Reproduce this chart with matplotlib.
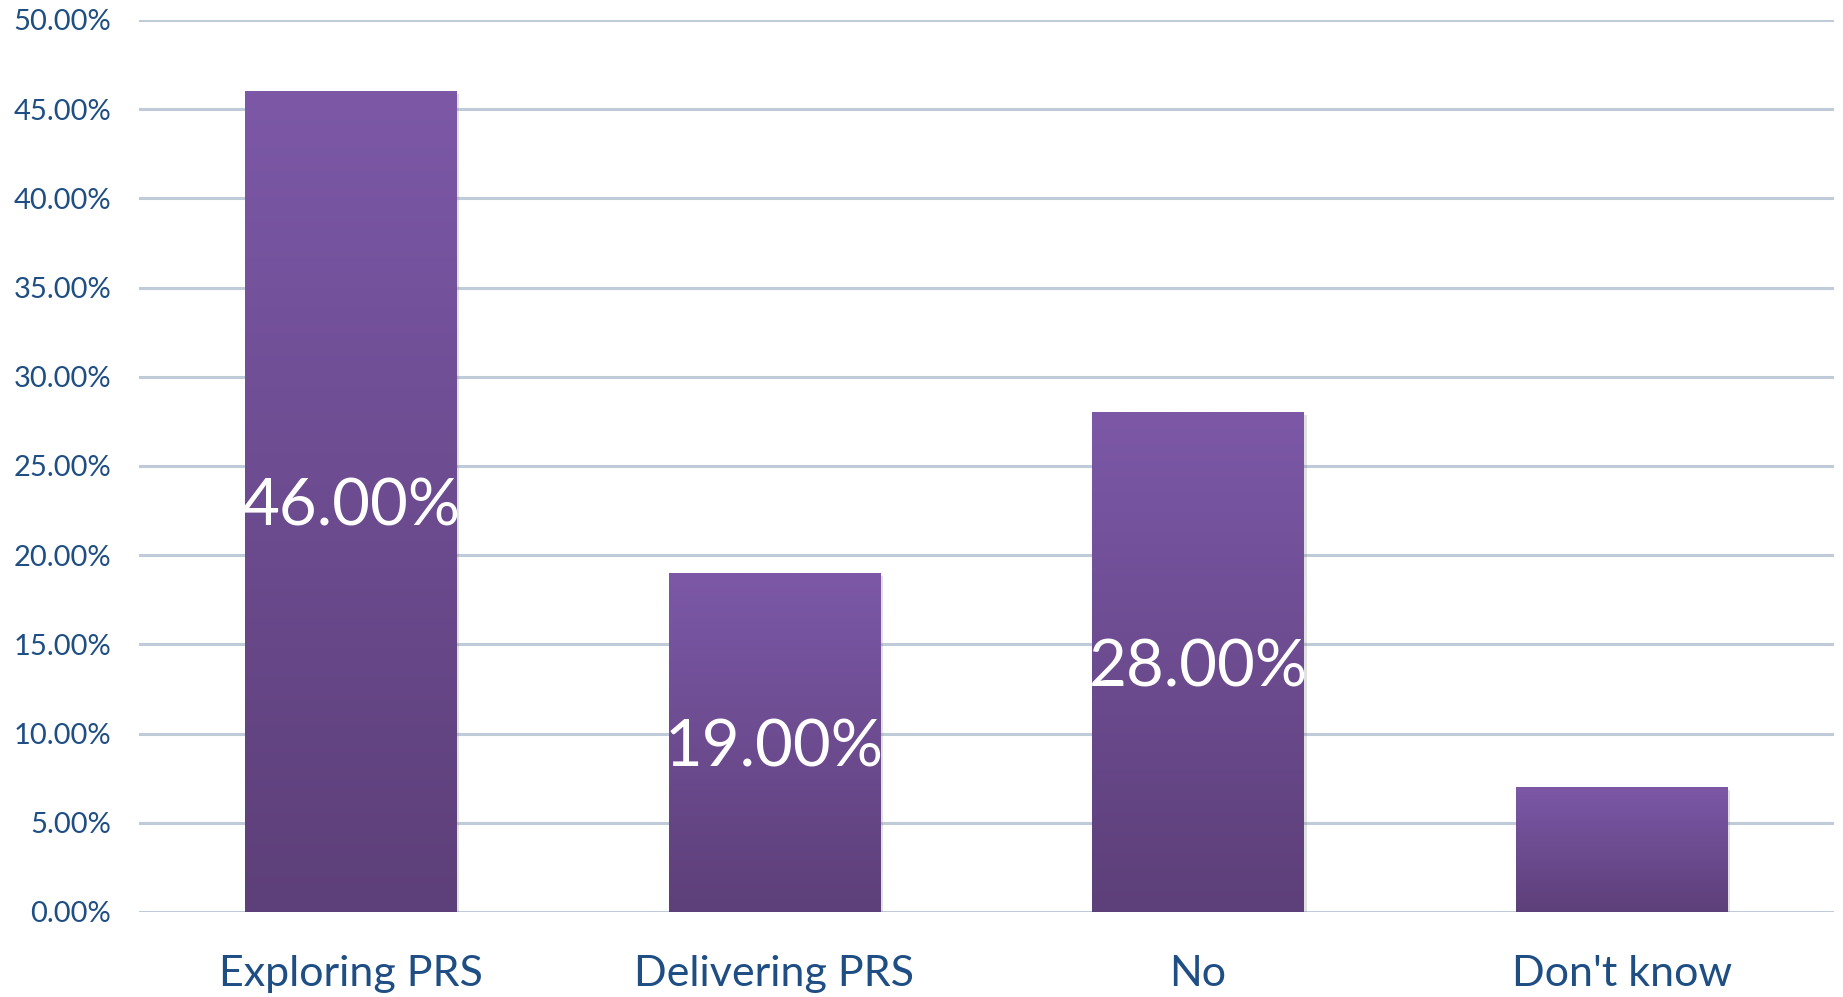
import numpy as np
import matplotlib.pyplot as plt
import matplotlib.patheffects as pe
from matplotlib.colors import LinearSegmentedColormap

categories = ["Exploring PRS", "Delivering PRS", "No", "Don't know"]
values = [46.0, 19.0, 28.0, 7.0]
show_label = [True, True, True, False]
y_ticks = [0, 5, 10, 15, 20, 25, 30, 35, 40, 45, 50]

text_color = "#1F4E84"
grid_color = "#BFCBD9"
top_color = "#7C58A7"
bottom_color = "#5D3F79"

plt.rcParams["font.family"] = ["Lato", "DejaVu Sans"]

fig = plt.figure(figsize=(18.43, 9.97), dpi=100)
ax = fig.add_axes([0.0754, 0.0853, 0.9195, 0.8947])

x = np.arange(len(categories))
width = 0.5

cmap = LinearSegmentedColormap.from_list("bar", [bottom_color, top_color])
grad = np.linspace(0, 1, 256).reshape(-1, 1)

bars = ax.bar(x, values, width=width, color=top_color, zorder=2,
              path_effects=[pe.SimplePatchShadow(offset=(2, -2), alpha=0.25,
                                                 shadow_rgbFace="#888888"),
                            pe.Normal()])
for b, v in zip(bars, values):
    x0 = b.get_x()
    im = ax.imshow(grad, cmap=cmap, origin="lower", aspect="auto",
                   extent=[x0, x0 + b.get_width(), 0, v], zorder=3)
    im.set_clip_path(b)

for xi, v, s in zip(x, values, show_label):
    if s:
        ax.text(xi, v / 2, f"{v:.2f}%", ha="center", va="center_baseline",
                color="white", fontsize=47, zorder=4)

ax.set_xlim(-0.5, len(categories) - 0.5)
ax.set_ylim(0, 50)
ax.set_yticks(y_ticks)
ax.set_yticklabels([f"{t:.2f}%" for t in y_ticks])
ax.set_xticks(x)
ax.set_xticklabels(categories)

ax.tick_params(axis="y", length=0, pad=20, labelsize=21, labelcolor=text_color)
ax.tick_params(axis="x", length=0, pad=31, labelsize=31, labelcolor=text_color)

ax.grid(axis="y", color=grid_color, linewidth=2.2, zorder=0)
ax.set_axisbelow(True)
for sp in ax.spines.values():
    sp.set_visible(False)

fig.savefig("out.png", dpi=100)
